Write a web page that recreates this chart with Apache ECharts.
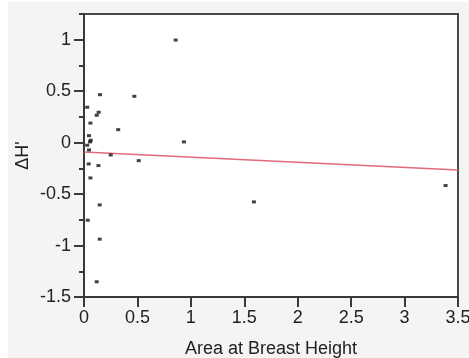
<!DOCTYPE html>
<html>
<head>
<meta charset="utf-8">
<script src="https://cdn.jsdelivr.net/npm/echarts@6/dist/echarts.min.js"></script>
<style>
  html, body { margin: 0; padding: 0; background: #ffffff; }
  #chart { position: absolute; left: 8px; top: 2px; width: 461px; height: 356px; background: #f4f4f4; }
</style>
</head>
<body>
<div id="chart"></div>
<script>
// area at breast height vs change in diversity
const areaValues = [0.15, 0.471, 0.03, 0.137, 0.119, 0.06, 0.32, 0.047, 0.063, 0.056, 0.03, 0.047,
  0.25, 0.512, 0.044, 0.135, 0.06, 0.147, 0.035, 0.147, 0.119, 0.858, 0.935, 1.59, 3.384];
const deltaH = [0.466, 0.45, 0.344, 0.295, 0.266, 0.19, 0.126, 0.068, 0.023, 0.007, -0.025, -0.071,
  -0.12, -0.175, -0.207, -0.223, -0.343, -0.605, -0.754, -0.938, -1.352, 0.997, 0.007, -0.576, -0.417];

// fitted line end points
const fitX = [0, 3.5];
const fitY = [-0.09, -0.265];

const xTitle = "Area at Breast Height";
const yTitle = "ΔH'";

const font = "'Liberation Sans', Arial, sans-serif";
const textColor = "#222";
const axisColor = "#3a3a3a";

const chart = echarts.init(document.getElementById("chart"));

const options = {
  animation: false,
  backgroundColor: "transparent",
  grid: {
    left: 76,
    right: 11,
    top: 12,
    bottom: 61,
    outerBoundsMode: "none",
    containLabel: false,
    show: true,
    backgroundColor: "#ffffff",
    borderColor: "#4a4a4a",
    borderWidth: 2,
  },
  xAxis: {
    type: "value",
    min: 0,
    max: 3.5,
    interval: 0.5,
    name: xTitle,
    nameLocation: "middle",
    nameGap: 43,
    nameTextStyle: { fontFamily: font, fontSize: 18, color: textColor },
    splitLine: { show: false },
    axisLine: { onZero: false, lineStyle: { color: axisColor, width: 2 } },
    axisTick: { length: 10, lineStyle: { color: axisColor, width: 2 } },
    axisLabel: { margin: 12, fontFamily: font, fontSize: 18, color: textColor, hideOverlap: false },
  },
  yAxis: [
    {
      type: "value",
      min: -1.5,
      max: 1.25,
      interval: 0.5,
      name: yTitle,
      nameLocation: "middle",
      nameGap: 52,
      nameMoveOverlap: false,
      nameTextStyle: { fontFamily: font, fontSize: 18, color: textColor },
      splitLine: { show: false },
      axisLine: { onZero: false, lineStyle: { color: axisColor, width: 2 } },
      axisTick: { length: 10, lineStyle: { color: axisColor, width: 2 } },
      axisLabel: { margin: 13, showMaxLabel: false, fontFamily: font, fontSize: 18, color: textColor },
    },
    {
      // minor ticks every 0.25
      type: "value",
      position: "left",
      min: -1.5,
      max: 1.25,
      interval: 0.25,
      splitLine: { show: false },
      axisLine: { show: false },
      axisTick: { length: 5, lineStyle: { color: axisColor, width: 2 } },
      axisLabel: { show: false },
    },
  ],
  series: [
    {
      type: "line",
      data: fitX.map((x, i) => [x, fitY[i]]),
      showSymbol: false,
      lineStyle: { color: "#e4697a", width: 1.5 },
      silent: true,
      z: 2,
    },
    {
      type: "scatter",
      data: areaValues.map((x, i) => [x, deltaH[i]]),
      symbol: "rect",
      symbolSize: [4, 3],
      itemStyle: { color: "#111" },
      z: 3,
    },
  ],
};

chart.setOption(options);
</script>
</body>
</html>
